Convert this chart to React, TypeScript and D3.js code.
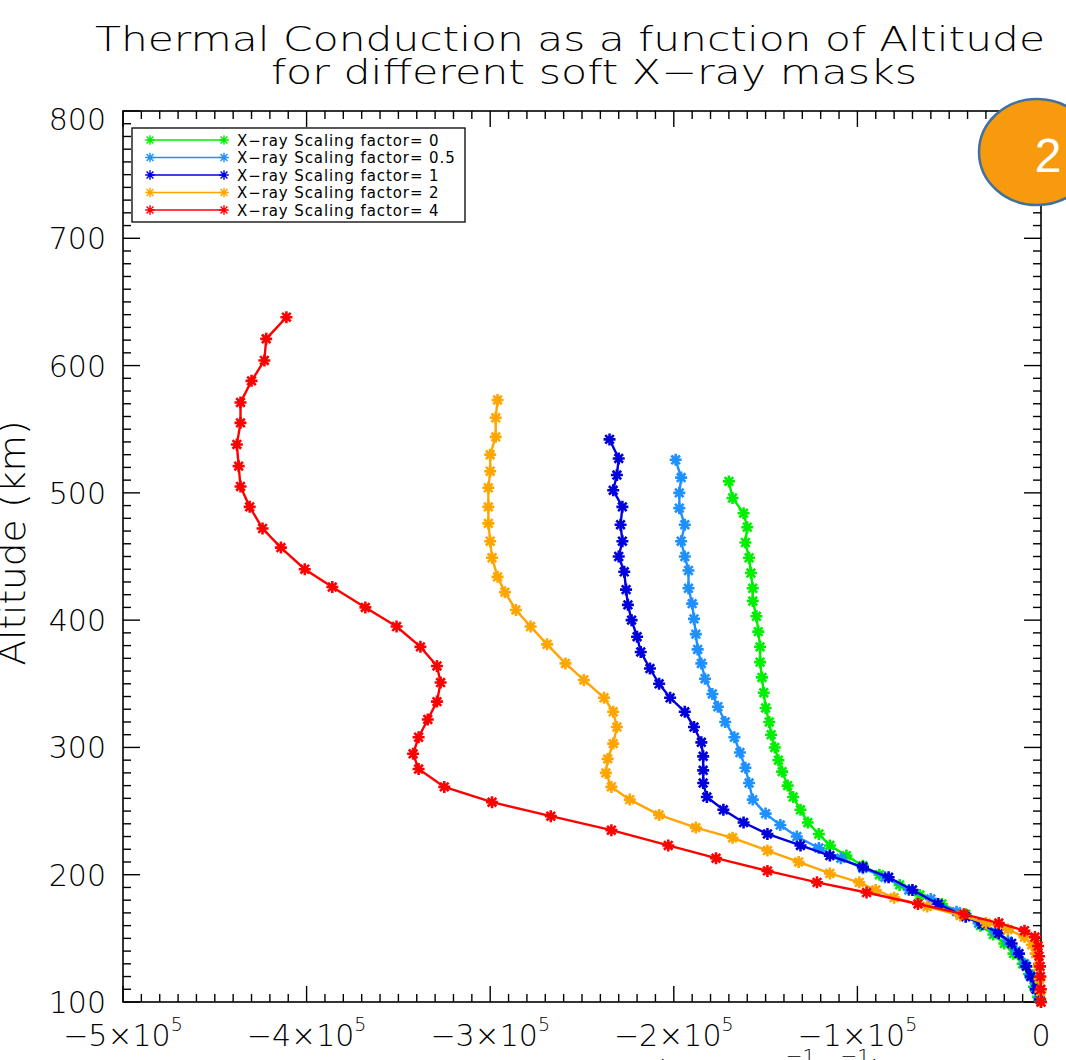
import React from "react";
import * as d3 from "d3";

// ---- data (flux in units of 1e3, altitude in km) ----
const factors = ["0", "0.5", "1", "2", "4"];
const seriesColors = ["#00EE00", "#1E90FF", "#0000DD", "#FFA500", "#FF0000"];

const altF0 = [509,496,484,473,461,449,437,425,415,403,391,379,367,355,343,331,320,310,300,290,281,270,261,251,241,232,223,215,207,200,192,184,177,169,160,153,146,138,130,122,112,104];
const fluxF0 = [-170,-168,-162,-160,-161,-159,-158,-157,-157,-155,-154,-153,-153,-152,-151,-150,-148,-147,-145,-143,-141,-138,-135,-131,-127,-121,-115,-106,-97,-88,-77,-66,-54,-41,-33,-26,-20,-15,-10,-6.5,-3.8,-1.6];

const altF05 = [526,512,500,488,475,462,450,439,425,413,401,389,377,366,354,342,332,320,308,296,284,272,259,248,239,230,221,213,205,198,188,181,171,162,155,148,140,130,121,111,103];
const fluxF05 = [-199,-196,-197,-197,-194,-196,-194,-192,-192,-190,-189,-188,-187,-185,-183,-179,-176,-172,-167,-164,-161,-159,-157,-150,-142,-133,-121,-109,-97,-85,-72,-60,-46,-34,-25,-18,-13.5,-9,-6,-3.2,-1];

const altF1 = [542,527,514,502,489,475,462,450,438,424,412,400,387,375,362,350,339,328,316,304,293,282,272,261,251,241,232,223,215,206,198,188,177,167,161,154,146,138,128,120,110,102];
const fluxF1 = [-235,-230,-231,-233,-228,-229,-228,-230,-227,-226,-225,-223,-220,-218,-213,-208,-202,-194,-189,-185,-184,-184,-184,-182,-173,-162,-149,-131,-115,-97,-83,-70,-56,-41,-32,-23,-16,-12,-8,-5.5,-2.7,-0.5];

const altF2 = [573,559,544,530,517,504,489,476,462,449,434,422,408,395,381,366,353,339,328,316,303,291,280,269,259,247,237,229,219,210,201,194,188,182,175,168,162,157,151,145,138,128,118,108,100];
const fluxF2 = [-296,-297,-297,-300,-300,-301,-301,-301,-300,-299,-296,-292,-286,-278,-269,-259,-249,-238,-233,-231,-233,-236,-237,-234,-224,-208,-188,-168,-149,-132,-115,-99,-90,-80,-62,-44,-30,-18,-9,-5,-3,-1.6,-0.8,-0.3,0];

const altF4 = [638,621,604,588,571,555,538,521,505,489,472,457,440,426,410,395,379,364,351,336,322,308,295,283,269,257,246,235,223,213,203,194,186,177,169,162,156,151,144,136,128,120,110,100];
const fluxF4 = [-411,-422,-423,-430,-436,-436,-438,-437,-436,-431,-424,-414,-401,-386,-368,-351,-338,-329,-327,-329,-334,-339,-342,-339,-325,-299,-267,-234,-203,-177,-149,-122,-95,-67,-42,-23,-9,-3.3,-1.6,-1.1,-0.5,-0.3,-0.1,0];

const altitudes = [altF0, altF05, altF1, altF2, altF4];
const fluxes = [fluxF0, fluxF05, fluxF1, fluxF2, fluxF4];

const xMajorTicks = [-500, -400, -300, -200, -100, 0];
const xTickMantissa = ["−5", "−4", "−3", "−2", "−1", "0"];
const yMajorTicks = [100, 200, 300, 400, 500, 600, 700, 800];

const titleLine1 = "Thermal Conduction as a function of Altitude";
const titleLine2 = "for different soft X−ray masks";
const yLabel = "Altitude (km)";

const W = 1066;
const H = 1060;
const FONT = "'DejaVu Sans', 'Liberation Sans', sans-serif";

const x = d3.scaleLinear().domain([-500, 0]).range([123, 1041]);
const y = d3.scaleLinear().domain([100, 800]).range([1002, 111]);

const starPath = "M-6,0H6M0,-6V6M-4.3,-4.3L4.3,4.3M-4.3,4.3L4.3,-4.3";

export default function App() {
  const [x0, x1] = x.range();
  const [y0, y1] = y.range();
  const minorX = d3.range(-500, 1, 10);
  const minorY = d3.range(100, 801, 10);
  const line = d3
    .line<[number, number]>()
    .x((d) => x(d[0]))
    .y((d) => y(d[1]));

  return (
    <svg
      width={W}
      height={H}
      style={{ position: "absolute", left: 0, top: 0, background: "#fff" }}
      fontFamily={FONT}
      fontWeight={200}
    >
      <rect x={0} y={0} width={W} height={H} fill="#fff" />
      {/* title */}
      <text x={95} y={51} fontSize={34} textLength={950} lengthAdjust="spacingAndGlyphs">
        {titleLine1}
      </text>
      <text x={271} y={84} fontSize={34} textLength={646} lengthAdjust="spacingAndGlyphs">
        {titleLine2}
      </text>

      {/* frame */}
      <rect x={x0} y={y1} width={x1 - x0} height={y0 - y1} fill="none" stroke="#000" strokeWidth={1.6} />

      {/* x ticks */}
      {minorX.map((v) => {
        const major = v % 100 === 0;
        const len = major ? 16 : 8;
        return (
          <g key={"xt" + v} stroke="#000" strokeWidth={1.4}>
            <line x1={x(v)} x2={x(v)} y1={y0} y2={y0 - len} />
            <line x1={x(v)} x2={x(v)} y1={y1} y2={y1 + len} />
          </g>
        );
      })}
      {/* y ticks */}
      {minorY.map((v) => {
        const major = v % 100 === 0;
        const len = major ? 17 : 8;
        return (
          <g key={"yt" + v} stroke="#000" strokeWidth={1.4}>
            <line x1={x0} x2={x0 + len} y1={y(v)} y2={y(v)} />
            <line x1={x1} x2={x1 - len} y1={y(v)} y2={y(v)} />
          </g>
        );
      })}

      {/* x tick labels */}
      {xMajorTicks.map((v, i) => (
        <text key={"xl" + v} x={x(v)} y={1046} fontSize={30} textAnchor="middle">
          {v === 0 ? (
            "0"
          ) : (
            <>
              <tspan>{xTickMantissa[i] + "×10"}</tspan>
              <tspan dy={-15} fontSize={19}>5</tspan>
            </>
          )}
        </text>
      ))}
      {/* y tick labels */}
      {yMajorTicks.map((v) => (
        <text
          key={"yl" + v}
          x={106}
          y={Math.max(y(v), y1 + 8) + 11}
          fontSize={30}
          textAnchor="end"
        >
          {v}
        </text>
      ))}

      {/* y axis label */}
      <text
        transform={`translate(25, 543) rotate(-90)`}
        fontSize={36}
        textAnchor="middle"
        textLength={245}
        lengthAdjust="spacingAndGlyphs"
      >
        {yLabel}
      </text>
      {/* x axis label (mostly cut off at bottom) */}
      <text x={655} y={1082} fontSize={30}>
        <tspan>(ergs cm</tspan>
        <tspan dy={-19} fontSize={20}>−1</tspan>
        <tspan dy={19}> s</tspan>
        <tspan dy={-19} fontSize={20}>−1</tspan>
        <tspan dy={19}>)</tspan>
      </text>

      {/* series */}
      {altitudes.map((alts, si) => {
        const pts: [number, number][] = alts.map((a, j) => [fluxes[si][j], a]);
        const c = seriesColors[si];
        return (
          <g key={"s" + si}>
            <path d={line(pts) || ""} fill="none" stroke={c} strokeWidth={2.4} />
            {pts.map((p, j) => (
              <path
                key={j}
                d={starPath}
                transform={`translate(${x(p[0])},${y(p[1])})`}
                stroke={c}
                strokeWidth={2.6}
                fill="none"
              />
            ))}
          </g>
        );
      })}

      {/* legend */}
      <rect x={132} y={128} width={333} height={94} fill="#fff" stroke="#000" strokeWidth={1.3} />
      {factors.map((f, i) => {
        const ly = 140 + i * 17.5;
        const c = seriesColors[i];
        return (
          <g key={"lg" + i}>
            <line x1={150} x2={224} y1={ly} y2={ly} stroke={c} strokeWidth={1.6} />
            <path d={starPath} transform={`translate(150,${ly}) scale(0.8)`} stroke={c} strokeWidth={1.8} fill="none" />
            <path d={starPath} transform={`translate(224,${ly}) scale(0.8)`} stroke={c} strokeWidth={1.8} fill="none" />
            <text x={237} y={ly + 5.5} fontSize={15} fontWeight={400} letterSpacing={0.9}>
              {"X−ray Scaling factor= " + f}
            </text>
          </g>
        );
      })}

      {/* badge */}
      <ellipse cx={1037} cy={152} rx={58} ry={53} fill="#F79A0E" stroke="#41719C" strokeWidth={2.5} />
      <text x={1048} y={172} fontSize={48} fontWeight={400} fill="#fff" textAnchor="middle" fontFamily="'Liberation Sans', 'Open Sans', sans-serif">
        2
      </text>
    </svg>
  );
}
